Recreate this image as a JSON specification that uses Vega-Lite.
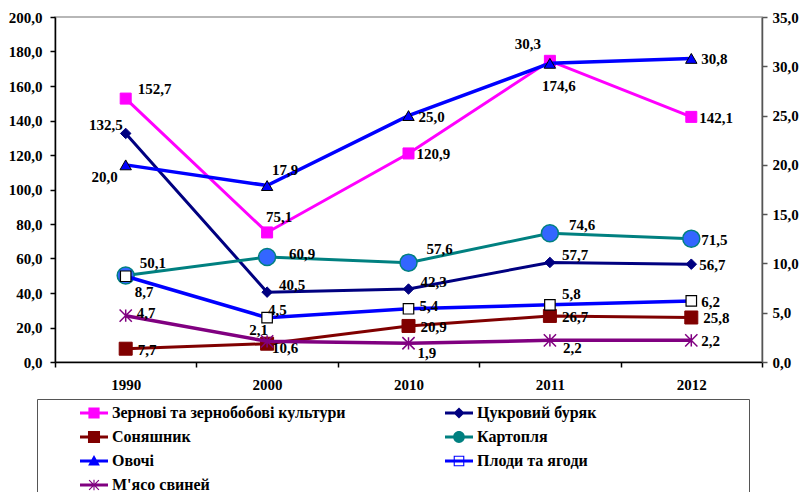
{
 "$schema": "https://vega.github.io/schema/vega-lite/v6.json",
 "width": 707, "height": 345,
 "autosize": {"type": "none"},
 "padding": {"left": 55, "top": 17, "right": 40, "bottom": 130},
 "background": "white",
 "config": {
  "locale": {"number": {"decimal": ",", "thousands": " ", "grouping": [3], "currency": ["", ""]}},
  "view": {"stroke": "#A0A0A0", "strokeWidth": 1.5},
  "axis": {"labelFont": "Liberation Serif", "labelFontSize": 15, "labelFontWeight": "bold", "labelColor": "#000", "domainColor": "#000", "domainWidth": 1.5, "tickColor": "#000", "tickWidth": 1.5, "title": null, "grid": false},
  "legend": {"labelFont": "Liberation Serif", "titleFont": "Liberation Serif"},
  "text": {"font": "Liberation Serif", "fontSize": 15, "fontWeight": "bold", "fill": "#000", "baseline": "middle"}
 },
 "data": {"values": [
  {"id": "z", "series": "Зернові та зернобобові культури", "year": "1990", "value": 152.7},
  {"id": "z", "series": "Зернові та зернобобові культури", "year": "2000", "value": 75.1},
  {"id": "z", "series": "Зернові та зернобобові культури", "year": "2010", "value": 120.9},
  {"id": "z", "series": "Зернові та зернобобові культури", "year": "2011", "value": 174.6},
  {"id": "z", "series": "Зернові та зернобобові культури", "year": "2012", "value": 142.1},
  {"id": "c", "series": "Цукровий буряк", "year": "1990", "value": 132.5},
  {"id": "c", "series": "Цукровий буряк", "year": "2000", "value": 40.5},
  {"id": "c", "series": "Цукровий буряк", "year": "2010", "value": 42.3},
  {"id": "c", "series": "Цукровий буряк", "year": "2011", "value": 57.7},
  {"id": "c", "series": "Цукровий буряк", "year": "2012", "value": 56.7},
  {"id": "s", "series": "Соняшник", "year": "1990", "value": 7.7},
  {"id": "s", "series": "Соняшник", "year": "2000", "value": 10.6},
  {"id": "s", "series": "Соняшник", "year": "2010", "value": 20.9},
  {"id": "s", "series": "Соняшник", "year": "2011", "value": 26.7},
  {"id": "s", "series": "Соняшник", "year": "2012", "value": 25.8},
  {"id": "k", "series": "Картопля", "year": "1990", "value": 50.1},
  {"id": "k", "series": "Картопля", "year": "2000", "value": 60.9},
  {"id": "k", "series": "Картопля", "year": "2010", "value": 57.6},
  {"id": "k", "series": "Картопля", "year": "2011", "value": 74.6},
  {"id": "k", "series": "Картопля", "year": "2012", "value": 71.5},
  {"id": "o", "series": "Овочі", "year": "1990", "value": 20.0},
  {"id": "o", "series": "Овочі", "year": "2000", "value": 17.9},
  {"id": "o", "series": "Овочі", "year": "2010", "value": 25.0},
  {"id": "o", "series": "Овочі", "year": "2011", "value": 30.3},
  {"id": "o", "series": "Овочі", "year": "2012", "value": 30.8},
  {"id": "p", "series": "Плоди та ягоди", "year": "1990", "value": 8.7},
  {"id": "p", "series": "Плоди та ягоди", "year": "2000", "value": 4.5},
  {"id": "p", "series": "Плоди та ягоди", "year": "2010", "value": 5.4},
  {"id": "p", "series": "Плоди та ягоди", "year": "2011", "value": 5.8},
  {"id": "p", "series": "Плоди та ягоди", "year": "2012", "value": 6.2},
  {"id": "m", "series": "М'ясо свиней", "year": "1990", "value": 4.7},
  {"id": "m", "series": "М'ясо свиней", "year": "2000", "value": 2.1},
  {"id": "m", "series": "М'ясо свиней", "year": "2010", "value": 1.9},
  {"id": "m", "series": "М'ясо свиней", "year": "2011", "value": 2.2},
  {"id": "m", "series": "М'ясо свиней", "year": "2012", "value": 2.2}
 ]},
 "encoding": {
  "x": {"field": "year", "type": "ordinal", "scale": {"type": "band", "paddingInner": 0, "paddingOuter": 0},
        "axis": {"tickBand": "extent", "labelAngle": 0, "tickSize": 5, "labelPadding": 10}}
 },
 "layer": [
  {
   "transform": [{"filter": "indexof(['z','c','s','k'], datum.id) >= 0"}],
   "encoding": {"y": {"field": "value", "type": "quantitative", "scale": {"domain": [0, 200], "nice": false},
     "axis": {"orient": "left", "values": [0, 20, 40, 60, 80, 100, 120, 140, 160, 180, 200], "format": ".1f", "tickSize": 5, "labelPadding": 8}}},
   "layer": [
    {"mark": {"type": "line", "strokeWidth": 3},
     "encoding": {"stroke": {"field": "id", "type": "nominal", "legend": null,
       "scale": {"domain": ["z", "c", "s", "k", "o", "p", "m"],
                 "range": ["#FF00FF", "#000080", "#800000", "#008080", "#0000FF", "#0000FF", "#800080"]}}}},
    {"transform": [{"filter": "datum.id == 'z'"}], "mark": {"type": "point", "shape": "square", "size": 121, "filled": true, "fill": "#FF00FF", "stroke": "#FF00FF", "strokeWidth": 1, "opacity": 1}},
    {"transform": [{"filter": "datum.id == 'c'"}], "mark": {"type": "point", "shape": "diamond", "size": 110, "filled": true, "fill": "#000080", "stroke": "#000080", "strokeWidth": 1, "opacity": 1}},
    {"transform": [{"filter": "datum.id == 's'"}], "mark": {"type": "point", "shape": "square", "size": 169, "filled": true, "fill": "#800000", "stroke": "#800000", "strokeWidth": 1, "opacity": 1}},
    {"transform": [{"filter": "datum.id == 'k'"}], "mark": {"type": "point", "shape": "circle", "size": 289, "filled": true, "fill": "#3366FF", "stroke": "#008080", "strokeWidth": 1.5, "opacity": 1}},
    {"transform": [{"filter": "indexof(['z2012','c2012','z2010'], datum.id + datum.year) >= 0"}], "mark": {"type": "text", "align": "left", "dx": 8, "dy": 1}, "encoding": {"text": {"field": "value", "type": "quantitative", "format": ".1f"}}},
    {"transform": [{"filter": "indexof(['k2012'], datum.id + datum.year) >= 0"}], "mark": {"type": "text", "align": "left", "dx": 10, "dy": 1}, "encoding": {"text": {"field": "value", "type": "quantitative", "format": ".1f"}}},
    {"transform": [{"filter": "indexof(['s1990','s2010','s2011','s2012'], datum.id + datum.year) >= 0"}], "mark": {"type": "text", "align": "left", "dx": 12, "dy": 1}, "encoding": {"text": {"field": "value", "type": "quantitative", "format": ".1f"}}},
    {"transform": [{"filter": "indexof(['c2000','c2010','c2011'], datum.id + datum.year) >= 0"}], "mark": {"type": "text", "align": "left", "dx": 12, "dy": -7}, "encoding": {"text": {"field": "value", "type": "quantitative", "format": ".1f"}}},
    {"transform": [{"filter": "indexof(['z1990'], datum.id + datum.year) >= 0"}], "mark": {"type": "text", "align": "left", "dx": 12, "dy": -10}, "encoding": {"text": {"field": "value", "type": "quantitative", "format": ".1f"}}},
    {"transform": [{"filter": "indexof(['k1990'], datum.id + datum.year) >= 0"}], "mark": {"type": "text", "align": "left", "dx": 14, "dy": -13}, "encoding": {"text": {"field": "value", "type": "quantitative", "format": ".1f"}}},
    {"transform": [{"filter": "indexof(['k2010'], datum.id + datum.year) >= 0"}], "mark": {"type": "text", "align": "left", "dx": 18, "dy": -14}, "encoding": {"text": {"field": "value", "type": "quantitative", "format": ".1f"}}},
    {"transform": [{"filter": "indexof(['k2011'], datum.id + datum.year) >= 0"}], "mark": {"type": "text", "align": "left", "dx": 19, "dy": -8}, "encoding": {"text": {"field": "value", "type": "quantitative", "format": ".1f"}}},
    {"transform": [{"filter": "indexof(['k2000'], datum.id + datum.year) >= 0"}], "mark": {"type": "text", "align": "left", "dx": 22, "dy": -3}, "encoding": {"text": {"field": "value", "type": "quantitative", "format": ".1f"}}},
    {"transform": [{"filter": "indexof(['z2000'], datum.id + datum.year) >= 0"}], "mark": {"type": "text", "align": "left", "dx": -1, "dy": -15}, "encoding": {"text": {"field": "value", "type": "quantitative", "format": ".1f"}}},
    {"transform": [{"filter": "indexof(['c1990'], datum.id + datum.year) >= 0"}], "mark": {"type": "text", "align": "right", "dx": -3, "dy": -8}, "encoding": {"text": {"field": "value", "type": "quantitative", "format": ".1f"}}},
    {"transform": [{"filter": "indexof(['s2000'], datum.id + datum.year) >= 0"}], "mark": {"type": "text", "align": "left", "dx": 5, "dy": 4}, "encoding": {"text": {"field": "value", "type": "quantitative", "format": ".1f"}}},
    {"transform": [{"filter": "indexof(['z2011'], datum.id + datum.year) >= 0"}], "mark": {"type": "text", "align": "left", "dx": -8, "dy": 25}, "encoding": {"text": {"field": "value", "type": "quantitative", "format": ".1f"}}}
   ]
  },
  {
   "transform": [{"filter": "indexof(['o','p','m'], datum.id) >= 0"}],
   "encoding": {"y": {"field": "value", "type": "quantitative", "scale": {"domain": [0, 35], "nice": false},
     "axis": {"orient": "right", "values": [0, 5, 10, 15, 20, 25, 30, 35], "format": ".1f", "tickSize": 5, "labelPadding": 5, "domainColor": "#555", "tickColor": "#555"}}},
   "layer": [
    {"mark": {"type": "line", "strokeWidth": 3.5},
     "encoding": {"stroke": {"field": "id", "type": "nominal", "legend": null,
       "scale": {"domain": ["z", "c", "s", "k", "o", "p", "m"],
                 "range": ["#FF00FF", "#000080", "#800000", "#008080", "#0000FF", "#0000FF", "#800080"]}}}},
    {"transform": [{"filter": "datum.id == 'o'"}], "mark": {"type": "point", "shape": "triangle-up", "size": 130, "filled": true, "fill": "#0000FF", "stroke": "#000000", "strokeWidth": 1, "opacity": 1}},
    {"transform": [{"filter": "datum.id == 'p'"}], "mark": {"type": "point", "shape": "square", "size": 110, "filled": true, "fill": "#FFFFFF", "stroke": "#000000", "strokeWidth": 1.2, "opacity": 1}},
    {"transform": [{"filter": "datum.id == 'm'"}], "mark": {"type": "point", "shape": "M-1,-1L1,1M-1,1L1,-1M0,-1L0,1", "size": 150, "filled": false, "stroke": "#800080", "strokeWidth": 1.5, "opacity": 1}},
    {"transform": [{"filter": "indexof(['o2010','o2012','p2012','m2012'], datum.id + datum.year) >= 0"}], "mark": {"type": "text", "align": "left", "dx": 10, "dy": 1}, "encoding": {"text": {"field": "value", "type": "quantitative", "format": ".1f"}}},
    {"transform": [{"filter": "indexof(['p2011'], datum.id + datum.year) >= 0"}], "mark": {"type": "text", "align": "left", "dx": 12, "dy": -11}, "encoding": {"text": {"field": "value", "type": "quantitative", "format": ".1f"}}},
    {"transform": [{"filter": "indexof(['o2000'], datum.id + datum.year) >= 0"}], "mark": {"type": "text", "align": "left", "dx": 5, "dy": -16}, "encoding": {"text": {"field": "value", "type": "quantitative", "format": ".1f"}}},
    {"transform": [{"filter": "indexof(['p2000'], datum.id + datum.year) >= 0"}], "mark": {"type": "text", "align": "left", "dx": 1, "dy": -8}, "encoding": {"text": {"field": "value", "type": "quantitative", "format": ".1f"}}},
    {"transform": [{"filter": "indexof(['m2000'], datum.id + datum.year) >= 0"}], "mark": {"type": "text", "align": "right", "dx": 1, "dy": -11}, "encoding": {"text": {"field": "value", "type": "quantitative", "format": ".1f"}}},
    {"transform": [{"filter": "indexof(['o2011'], datum.id + datum.year) >= 0"}], "mark": {"type": "text", "align": "right", "dx": -9, "dy": -19}, "encoding": {"text": {"field": "value", "type": "quantitative", "format": ".1f"}}},
    {"transform": [{"filter": "indexof(['o1990'], datum.id + datum.year) >= 0"}], "mark": {"type": "text", "align": "right", "dx": -8, "dy": 12}, "encoding": {"text": {"field": "value", "type": "quantitative", "format": ".1f"}}},
    {"transform": [{"filter": "indexof(['p1990'], datum.id + datum.year) >= 0"}], "mark": {"type": "text", "align": "left", "dx": 9, "dy": 16}, "encoding": {"text": {"field": "value", "type": "quantitative", "format": ".1f"}}},
    {"transform": [{"filter": "indexof(['m2010'], datum.id + datum.year) >= 0"}], "mark": {"type": "text", "align": "left", "dx": 9, "dy": 10}, "encoding": {"text": {"field": "value", "type": "quantitative", "format": ".1f"}}},
    {"transform": [{"filter": "indexof(['m2011'], datum.id + datum.year) >= 0"}], "mark": {"type": "text", "align": "left", "dx": 13, "dy": 8}, "encoding": {"text": {"field": "value", "type": "quantitative", "format": ".1f"}}},
    {"transform": [{"filter": "indexof(['m1990','p2010'], datum.id + datum.year) >= 0"}], "mark": {"type": "text", "align": "left", "dx": 11, "dy": -3}, "encoding": {"text": {"field": "value", "type": "quantitative", "format": ".1f"}}}
   ]
  },
  {
   "transform": [{"filter": "false"}],
   "mark": {"type": "point", "filled": true, "opacity": 1},
   "encoding": {
    "color": {"field": "series", "type": "nominal",
      "scale": {"domain": ["Зернові та зернобобові культури", "Соняшник", "Овочі", "М'ясо свиней", "Цукровий буряк", "Картопля", "Плоди та ягоди"],
                "range": ["#FF00FF", "#800000", "#0000FF", "#800080", "#000080", "#008080", "#0000FF"]},
      "legend": {"orient": "none", "legendX": -18, "legendY": 382, "columns": 2, "columnPadding": 56, "rowPadding": 2, "padding": 0, "strokeColor": "#555", "fillColor": "#FFFFFF", "symbolSize": 784, "symbolStrokeWidth": 0, "symbolOffset": 43, "labelFont": "Liberation Serif", "labelFontSize": 16, "labelFontWeight": "bold", "labelColor": "#000", "labelOffset": 4, "labelLimit": 400, "title": " ", "titleOrient": "right", "titlePadding": 153, "titleFontSize": 15}},
    "shape": {"field": "series", "type": "nominal",
      "scale": {"domain": ["Зернові та зернобобові культури", "Соняшник", "Овочі", "М'ясо свиней", "Цукровий буряк", "Картопля", "Плоди та ягоди"],
                "range": [
                 "M-1,-0.11H1V0.11H-1ZM-0.4,-0.4H0.4V0.4H-0.4Z",
                 "M-1,-0.11H1V0.11H-1ZM-0.43,-0.43H0.43V0.43H-0.43Z",
                 "M-1,-0.11H1V0.11H-1ZM0,-0.42L0.42,0.33H-0.42Z",
                 "M-1,-0.11H1V0.11H-1ZM-0.32,-0.38L0.38,0.32L0.32,0.38L-0.38,-0.32ZM0.32,-0.38L0.38,-0.32L-0.32,0.38L-0.38,0.32ZM-0.04,-0.38H0.04V0.38H-0.04Z",
                 "M-1,-0.11H1V0.11H-1ZM0,-0.4L0.4,0L0,0.4L-0.4,0Z",
                 "M-1,-0.11H1V0.11H-1ZM-0.42,0A0.42,0.42 0 1,1 0.42,0A0.42,0.42 0 1,1 -0.42,0Z",
                 "M-1,-0.11H1V0.11H-1ZM-0.38,-0.38H0.38V0.38H-0.38ZM-0.3,-0.3V0.3H0.3V-0.3Z"
                ]},
      "legend": {"orient": "none", "legendX": -18, "legendY": 382, "columns": 2, "columnPadding": 56, "rowPadding": 2, "padding": 0, "strokeColor": "#555", "fillColor": "#FFFFFF", "symbolSize": 784, "symbolStrokeWidth": 0, "symbolOffset": 43, "labelFont": "Liberation Serif", "labelFontSize": 16, "labelFontWeight": "bold", "labelColor": "#000", "labelOffset": 4, "labelLimit": 400, "title": " ", "titleOrient": "right", "titlePadding": 153, "titleFontSize": 15}}
   }
  }
 ],
 "resolve": {"scale": {"y": "independent"}}
}
